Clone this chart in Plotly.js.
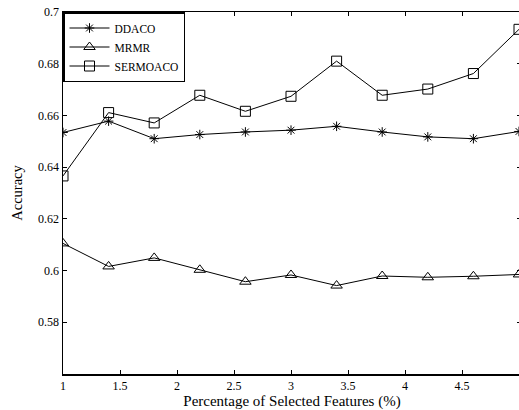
<!DOCTYPE html>
<html>
<head>
<meta charset="utf-8">
<script src="https://cdn.plot.ly/plotly-3.0.1.min.js"></script>
<style>html,body{margin:0;padding:0;background:#fff;overflow:hidden;}#chart{width:521px;height:410px;}</style>
</head>
<body>
<div id="chart"></div>
<script>
const xValues = [1, 1.4, 1.8, 2.2, 2.6, 3.0, 3.4, 3.8, 4.2, 4.6, 5.0];
const ddaco = [0.6534, 0.6578, 0.6510, 0.6526, 0.6536, 0.6543, 0.6558, 0.6536, 0.6517, 0.6510, 0.6538];
const mrmr = [0.6105, 0.6016, 0.6049, 0.6003, 0.5957, 0.5983, 0.5942, 0.5979, 0.5974, 0.5978, 0.5985];
const sermoaco = [0.6366, 0.6611, 0.6571, 0.6678, 0.6616, 0.6674, 0.6810, 0.6678, 0.6702, 0.6762, 0.6933];
const xTickVals = [1, 1.5, 2, 2.5, 3, 3.5, 4, 4.5];
const xTickText = ['1', '1.5', '2', '2.5', '3', '3.5', '4', '4.5'];
const yTickVals = [0.58, 0.6, 0.62, 0.64, 0.66, 0.68, 0.7];
const yTickText = ['0.58', '0.6', '0.62', '0.64', '0.66', '0.68', '0.7'];

const FONT = '"Liberation Serif", "Times New Roman", Times, serif';
function series(name, y, symbol, size) {
  return {
    x: xValues, y: y, name: name, type: 'scatter', mode: 'lines+markers',
    line: {color: '#000', width: 1},
    marker: {symbol: symbol, size: size, color: '#000', line: {color: '#000', width: 1}}
  };
}
const data = [
  series('DDACO', ddaco, 'asterisk-open', 8),
  series('MRMR', mrmr, 'triangle-up-open', 10),
  series('SERMOACO', sermoaco, 'square-open', 10)
];
const layout = {
  width: 521, height: 410,
  margin: {l: 63, r: 0, t: 12, b: 36, pad: 0},
  paper_bgcolor: '#fff', plot_bgcolor: '#fff',
  font: {family: FONT, size: 12, color: '#000'},
  showlegend: true,
  legend: {x: 0, y: 1, xanchor: 'left', yanchor: 'top', bgcolor: '#fff',
    bordercolor: '#000', borderwidth: 1.5, font: {family: FONT, size: 11.5, color: '#000'},
    itemwidth: 40, tracegroupgap: 0},
  xaxis: {range: [1, 5.0175], tickvals: xTickVals, ticktext: xTickText, ticks: 'inside', ticklen: 4,
    tickcolor: '#000', showline: true, linecolor: '#000', linewidth: 1.5, mirror: 'ticks',
    showgrid: false, zeroline: false, tickfont: {family: FONT, size: 12},
    title: {text: 'Percentage of Selected Features (%)', font: {family: FONT, size: 15}, standoff: 8}},
  yaxis: {range: [0.56, 0.7], tickvals: yTickVals, ticktext: yTickText, ticks: 'inside', ticklen: 4,
    tickcolor: '#000', showline: true, linecolor: '#000', linewidth: 1.5, mirror: 'ticks',
    showgrid: false, zeroline: false, tickfont: {family: FONT, size: 12},
    title: {text: 'Accuracy', font: {family: FONT, size: 14.5}, standoff: 12}}
};
Plotly.newPlot('chart', data, layout, {displayModeBar: false, staticPlot: true});
</script>
</body>
</html>
